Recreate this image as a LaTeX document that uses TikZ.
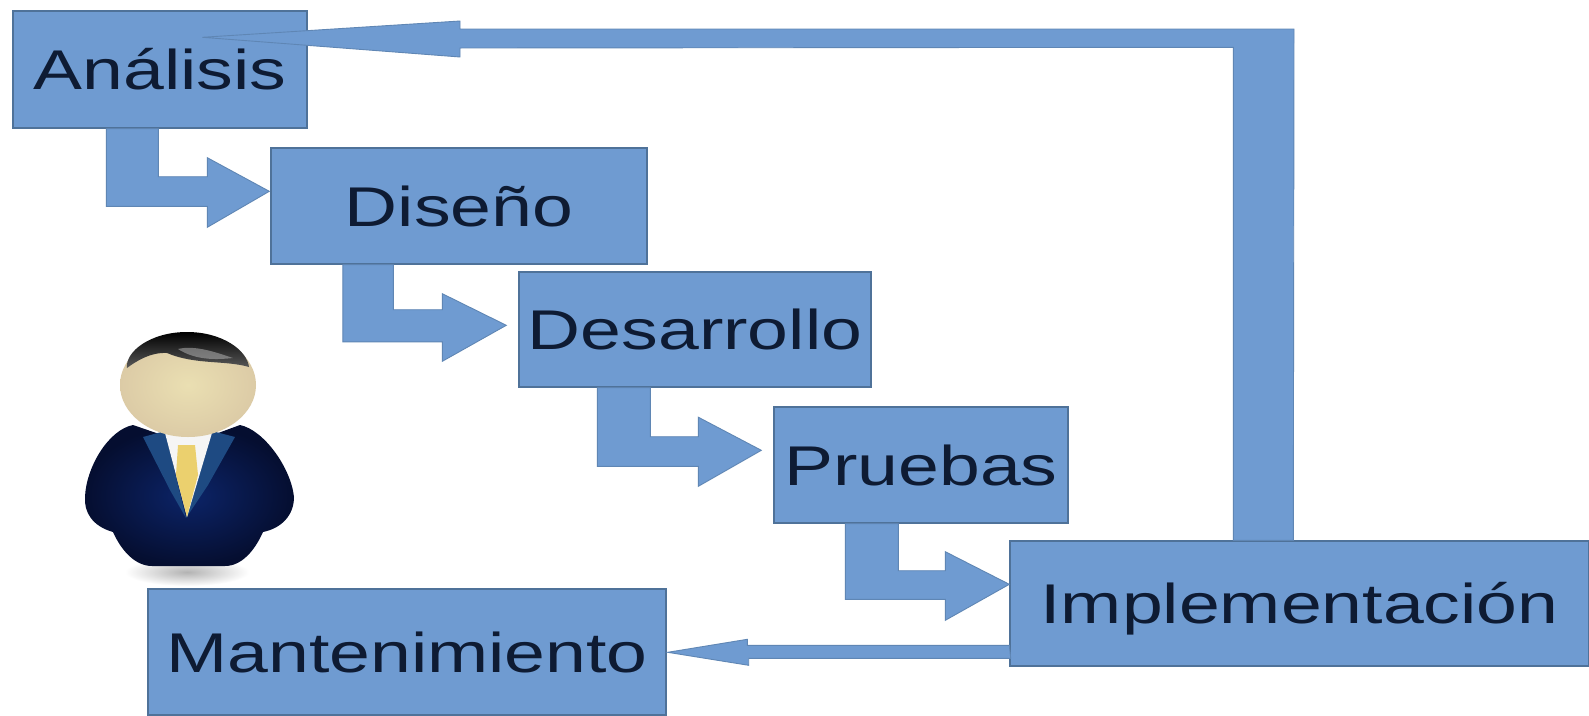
\documentclass[tikz,border=0pt]{standalone}
\usepackage{fontspec}
\setmainfont[FakeStretch=1.31]{Liberation Sans}
\usetikzlibrary{calc}
\definecolor{boxblue}{HTML}{6F9BD1}
\definecolor{edgeblue}{HTML}{4F7299}
\definecolor{flowedge}{HTML}{5F86B4}
\definecolor{inkblue}{HTML}{0E1B33}
\definecolor{suitin}{HTML}{0C2468}
\definecolor{suitout}{HTML}{050E30}
\definecolor{lapel}{HTML}{1E4A82}
\definecolor{tieyellow}{HTML}{EBD06E}
\definecolor{skinin}{HTML}{EADFB2}
\definecolor{skinout}{HTML}{DCCBA6}
\tikzset{
  stage/.style={draw=edgeblue,line width=1.4pt,fill=boxblue,text=inkblue,inner sep=0pt,
    font=\fontsize{56}{60}\selectfont,text height=40pt,text depth=0pt},
  flow/.style={draw=flowedge,line width=.9pt,fill=boxblue,line join=miter},
}
\begin{document}
\begin{tikzpicture}[x=1pt,y=-1pt]
\useasboundingbox (0,0) rectangle (1589,715);
\fill[white] (0,0) rectangle (1589,715);
% stages
\node[stage,minimum width=294pt,minimum height=117pt] (an) at (160,69.5) {Análisis};
\node[stage,minimum width=376pt,minimum height=116pt] (di) at (459,206) {Diseño};
\node[stage,minimum width=352pt,minimum height=115pt] (de) at (695,329.5) {Desarrollo};
\node[stage,minimum width=294pt,minimum height=116pt] (pr) at (921,465) {Pruebas};
\node[stage,minimum width=579pt,minimum height=125pt] (im) at (1299.5,603.5) {Implementación};
\node[stage,minimum width=518pt,minimum height=126pt] (ma) at (407,652) {Mantenimiento};
% stepped arrows
\draw[flow] ($(an.south west)+(94,0)$) -- ++(52,0) -- ++(0,48) -- ++(49,0) -- ++(0,-19)
  -- ($(di.north west)+(-1,44)$) -- ++(-62,36) -- ++(0,-21) -- ++(-101,0) -- cycle;
\draw[flow] ($(di.south west)+(72.5,0)$) -- ++(50.5,0) -- ++(0,45) -- ++(49,0) -- ++(0,-16)
  -- ($(de.north west)+(-12,54)$) -- ++(-64,36) -- ++(0,-19.5) -- ++(-99.5,0) -- cycle;
\draw[flow] ($(de.south west)+(79,0)$) -- ++(53,0) -- ++(0,49) -- ++(48,0) -- ++(0,-19.5)
  -- ($(pr.north west)+(-12,44)$) -- ++(-63,36) -- ++(0,-20) -- ++(-101,0) -- cycle;
\draw[flow] ($(pr.south west)+(72,0)$) -- ++(53,0) -- ++(0,47) -- ++(47,0) -- ++(0,-19)
  -- ($(im.north west)+(0,44)$) -- ++(-64,36) -- ++(0,-21) -- ++(-100,0) -- cycle;
% arrow to Mantenimiento
\draw[flow] ($(im.north west)+(0,105)$) -- ++(-262,0) -- ++(0,-6)
  -- ($(ma.north east)+(1,64)$) -- ++(81,13) -- ++(0,-7) -- ++(262,0) -- cycle;
% feedback arrow
\draw[flow] ($(im.north west)+(224,0)$) -- ++(0,-493) -- (460,48) -- (460,57)
  -- ($(an.north west)+(190,27)$) -- (460,21) -- (460,29) -- ++(834,0) -- ($(im.north west)+(284,0)$) -- cycle;
% person
\shade[inner color=black!30,outer color=white,draw=none] (187,572) ellipse (62 and 14);
\path[inner color=suitin,outer color=suitout,shade]
  (133,425) .. controls (108,430) and (86,468) .. (85,497)
  .. controls (84,512) and (92,526) .. (113,532)
  .. controls (122,552) and (136,566) .. (152,566)
  -- (225,566) .. controls (242,566) and (255,550) .. (263,532)
  .. controls (282,528) and (294,515) .. (294,497)
  .. controls (291,468) and (264,430) .. (240,425)
  -- (210,436) -- (165,436) -- cycle;
\fill[lapel] (143,437) -- (165,431) -- (186,518) -- (170,490) -- cycle;
\fill[lapel] (235,437) -- (212,431) -- (186,518) -- (208,485) -- cycle;
\fill[gray!8] (165,433) -- (212,433) -- (187,517) -- cycle;
\fill[tieyellow] (178,445) -- (195,445) -- (198,475) -- (187,517) -- (176,475) -- cycle;
\shade[inner color=skinin,outer color=skinout] (188,385) ellipse (68 and 52);
\path[shade,top color=black,bottom color=black!65]
  (127,368) .. controls (125,352) and (150,332) .. (187,332)
  .. controls (222,332) and (247,350) .. (249,367)
  .. controls (225,360) and (195,365) .. (167,353)
  .. controls (150,352) and (135,362) .. (127,368) -- cycle;
\fill[gray!70,opacity=.6] (178,349) .. controls (195,345) and (215,352) .. (233,358)
  .. controls (215,360) and (195,360) .. (178,349) -- cycle;
\end{tikzpicture}
\end{document}
